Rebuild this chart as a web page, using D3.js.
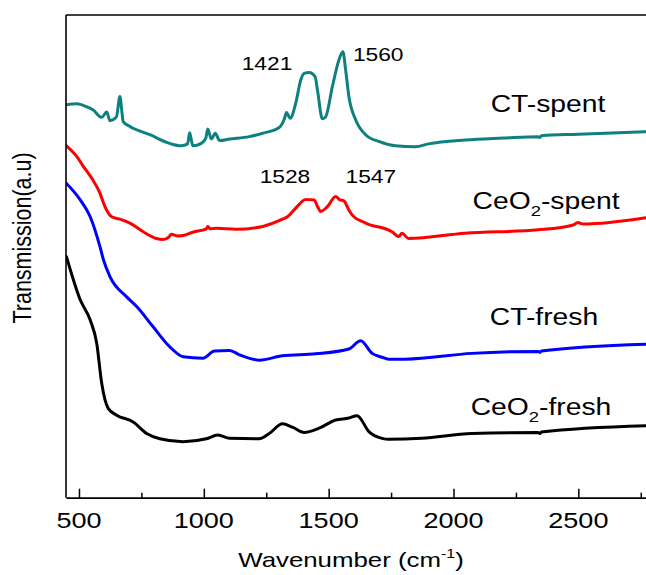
<!DOCTYPE html>
<html><head><meta charset="utf-8">
<script src="https://cdn.jsdelivr.net/npm/d3@7"></script>
<style>body{margin:0;background:#fff}svg{display:block}text{font-family:"Liberation Sans",Arial,sans-serif;fill:#000}</style>
</head><body>
<svg id="c" width="646" height="575"></svg>
<script>
// Wavenumber (cm-1) and transmission (a.u., offset) values
const ctSpentW = [450,491,530,557,591,611,624,650,664,672,677,704,784,863,910,935,943,950,956,990,1008,1016,1030,1046,1063,1103,1182,1236,1302,1322,1331,1346,1368,1388,1402,1422,1446,1455,1475,1488,1515,1541,1557,1568,1581,1608,1648,1701,1767,1847,1900,2047,2200,2339,2346,2352,2500,2771];
const ctSpentT = [81.4,81.6,81.0,80.3,78.8,79.9,78.1,78.9,83.1,79.9,77.9,76.9,75.2,73.4,72.9,73.3,75.6,74.1,72.9,73.4,74.5,76.4,74.3,75.5,74.0,74.3,74.8,75.5,76.7,78.4,79.8,78.6,81.7,86.5,87.9,88.1,87.2,84.5,78.5,78.9,85.2,90.7,92.4,88.6,83.1,78.3,75.2,73.8,72.9,72.7,73.3,74.1,74.5,74.8,74.6,75.0,75.3,75.8];

const ceSpentW = [450,491,518,551,584,604,631,664,704,757,810,837,860,870,895,917,956,1010,1016,1025,1050,1129,1236,1315,1335,1368,1408,1442,1455,1468,1495,1528,1545,1561,1581,1594,1648,1754,1781,1794,1820,2046,2339,2480,2498,2520,2771];
const ceSpentT = [72.9,70.7,68.6,66.2,63.1,60.3,58.2,57.7,56.9,55.1,53.7,53.5,54.0,54.6,54.2,54.3,55.0,55.7,56.2,55.7,55.8,55.6,56.2,57.7,58.2,60.0,61.8,61.7,60.4,59.3,60.3,62.4,61.7,61.5,59.6,58.6,56.9,55.1,54.1,54.8,53.7,54.8,55.5,56.5,57.0,56.7,58.0];

const ctFreshW = [450,505,545,584,598,624,691,731,797,863,917,996,1043,1103,1143,1222,1315,1448,1581,1628,1674,1714,1740,1807,2073,2339,2346,2352,2771];
const ctFreshT = [65.1,61.7,58.2,52.0,49.3,45.8,41.6,39.6,35.4,31.3,29.2,28.9,30.4,30.5,29.6,28.5,29.4,29.8,30.8,32.5,29.9,29.1,28.7,28.7,29.9,30.3,30.1,30.4,31.8];

const ceFreshW = [450,505,545,571,591,617,651,717,771,824,917,1010,1056,1103,1222,1262,1315,1355,1402,1462,1528,1581,1614,1661,1714,1740,1873,2073,2339,2346,2352,2771];
const ceFreshT = [49.9,41.0,36.8,32.0,23.7,18.5,17.1,15.7,13.3,12.2,11.6,12.2,13.0,12.3,12.2,13.3,15.3,14.6,13.5,14.4,16.1,16.5,17.0,13.7,12.3,12.1,12.3,13.3,13.5,13.3,13.6,14.9];

const xMajorTicks = [500,1000,1500,2000,2500];
const xMinorTicks = [750,1250,1750,2250,2750];
const peakLabels = ["1421","1560","1528","1547"];
// anchor positions of the annotation texts, in data units
const peakLabelW = [1253,1597,1325,1669];
const peakLabelT = [88.6,90.5,65.2,65.2];
const seriesNames = ["CT-spent","CeO2-spent","CT-fresh","CeO2-fresh"];
const seriesColors = ["#0f8080","#ff0000","#0000ff","#000000"];

const svg = d3.select("#c");
const L = 66, R = 646, T = 15, B = 497.7;
const x = d3.scaleLinear().domain([448, 2771]).range([L, R]);
const y = d3.scaleLinear().domain([0, 100]).range([B, T]);
const SX = 1.23;

svg.append("defs").append("clipPath").attr("id","clip")
  .append("rect").attr("x",L).attr("y",T).attr("width",R-L+10).attr("height",B-T);

const series = [
  [ctSpentW, ctSpentT], [ceSpentW, ceSpentT], [ctFreshW, ctFreshT], [ceFreshW, ceFreshT]
];
const line = d3.line().x(d=>x(d[0])).y(d=>y(d[1])).curve(d3.curveMonotoneX);
const g = svg.append("g").attr("clip-path","url(#clip)");
series.forEach((s,i)=>{
  const pts = s[0].map((w,j)=>[w, s[1][j]]);
  g.append("path").datum(pts).attr("d", line)
    .attr("fill","none").attr("stroke", seriesColors[i])
    .attr("stroke-width", 3).attr("stroke-linejoin","round").attr("stroke-linecap","round");
});

// frame
svg.append("line").attr("x1",L).attr("x2",R+5).attr("y1",T).attr("y2",T).attr("stroke","#000").attr("stroke-width",1.6);
svg.append("line").attr("x1",L).attr("x2",L).attr("y1",T).attr("y2",B).attr("stroke","#000").attr("stroke-width",1.6);

// axes
const ax = svg.append("g").attr("transform",`translate(0,${B})`)
  .call(d3.axisBottom(x).tickValues(xMajorTicks).tickSizeInner(-9).tickSizeOuter(0).tickFormat(""));
ax.select(".domain").attr("stroke-width",1.8);
ax.selectAll(".tick line").attr("stroke-width",1.5);
const axm = svg.append("g").attr("transform",`translate(0,${B})`)
  .call(d3.axisBottom(x).tickValues(xMinorTicks).tickSizeInner(-5).tickSizeOuter(0).tickFormat(""));
axm.select(".domain").remove();
axm.selectAll(".tick line").attr("stroke-width",1.5);

function txt(px, py, size, anchor){
  return svg.append("text")
    .attr("transform",`translate(${px},${py}) scale(${SX},1)`)
    .attr("text-anchor",anchor).attr("font-size",size);
}
xMajorTicks.forEach(v=>{ txt(x(v), 527.5, 22, "middle").text(v); });

// x title
const xt = txt(351, 567, 21, "middle");
xt.append("tspan").text("Wavenumber (cm");
xt.append("tspan").attr("font-size",13).attr("dy",-9).text("-1");
xt.append("tspan").attr("dy",9).text(")");

// y title
svg.append("text").attr("transform",`translate(31,238) rotate(-90) scale(1,${SX})`)
  .attr("text-anchor","middle").attr("font-size",21.5).text("Transmission(a.u)");

// peak annotations
peakLabels.forEach((s,i)=>{
  const px = x(peakLabelW[i]), py = y(peakLabelT[i]);
  txt(px, py, 18.5, i===1 ? "start" : "middle").text(s);
});

// series labels
const lbl = [[548,111.5],[546,208.5],[544,325],[541,415]];
seriesNames.forEach((n,i)=>{
  const t = txt(lbl[i][0], lbl[i][1], 23, "middle");
  if(n.startsWith("CeO2")){
    t.append("tspan").text("CeO");
    t.append("tspan").attr("font-size",15).attr("dy",7).text("2");
    t.append("tspan").attr("dy",-7).text(n.slice(4));
  } else t.text(n);
});
</script>
</body></html>
